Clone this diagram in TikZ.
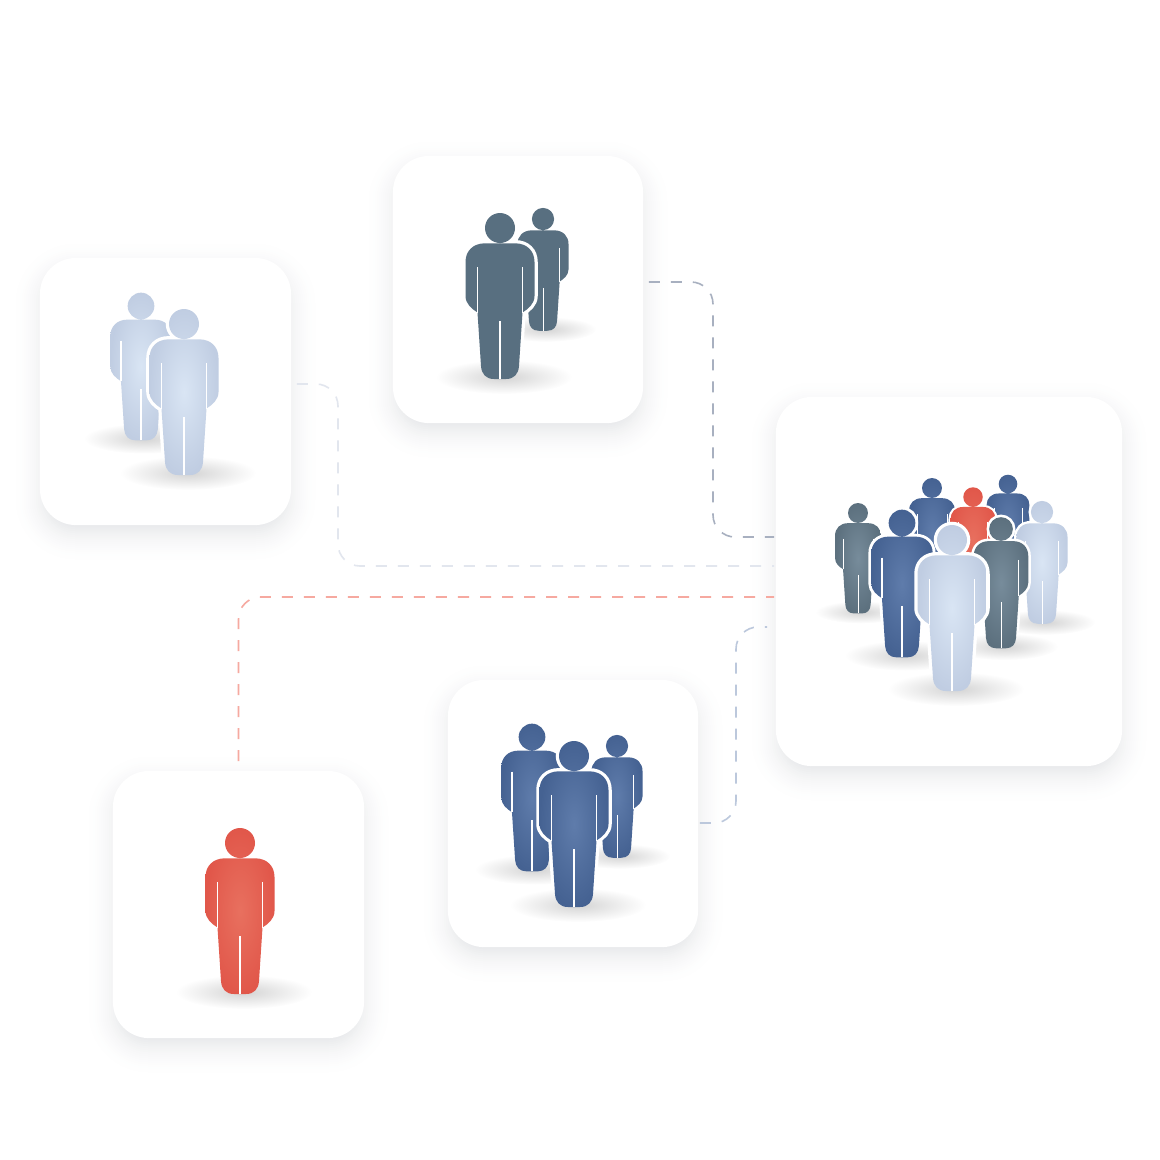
\documentclass[tikz,border=0pt]{standalone}
\usetikzlibrary{calc,fadings}
\definecolor{cardshade}{HTML}{000A20}
\definecolor{slateLink}{HTML}{A8B0C0}
\definecolor{lightLink}{HTML}{E2E6EE}
\definecolor{redLink}{HTML}{F6A9A0}
\definecolor{blueLink}{HTML}{BCC8DC}
\definecolor{slateA}{HTML}{586F80}
\definecolor{slateB}{HTML}{778C9B}
\definecolor{slateC}{HTML}{5C707E}
\definecolor{blueA}{HTML}{5F7CAB}
\definecolor{blueB}{HTML}{456292}
\definecolor{lightA}{HTML}{D9E5F4}
\definecolor{lightB}{HTML}{C0CDE2}
\definecolor{redA}{HTML}{E8705F}
\definecolor{redB}{HTML}{E1574A}
\tikzfading[name=groundfade, inner color=transparent!83, outer color=transparent!100]
\tikzset{
	card/.style={fill=white, rounded corners=0.36cm, inner sep=0pt, minimum width=2.5cm, minimum height=2.67cm},
	link/.style={line width=0.016cm, rounded corners=0.22cm, dash pattern=on 0.11cm off 0.11cm},
	personSlate/.style={inner color=slateA, outer color=slateA},
	personSteel/.style={inner color=slateB, outer color=slateC},
	personBlue/.style={inner color=blueA, outer color=blueB},
	personLight/.style={inner color=lightA, outer color=lightB},
	personRed/.style={inner color=redA, outer color=redB},
}
\def\personbody{(-15,15.3) -- (15,15.3) .. controls (27,15.3) and (34.5,23) .. (34.5,34) -- (34.5,68) .. controls (34.5,76) and (28,81) .. (22.5,84.5) -- (19,138) .. controls (18.5,146) and (14,151) .. (6,151) -- (-6,151) .. controls (-14,151) and (-18.5,146) .. (-19,138) -- (-22.5,84.5) .. controls (-28,81) and (-34.5,76) .. (-34.5,68) -- (-34.5,34) .. controls (-34.5,23) and (-27,15.3) .. (-15,15.3) -- cycle}
\def\person[#1](#2)(#3){
	\begin{scope}[shift={(#2)}, scale=#3]
		\begin{scope}
			\clip (-50,-30) rectangle (50,128);
			\draw[white, line width=#3*0.065cm] \personbody;
			\draw[white, line width=#3*0.065cm] (0,0) circle (15);
		\end{scope}
		\shade[#1] \personbody (0,0) circle (15);
		\draw[white, line width=#3*0.012cm] (-22.5,39) -- (-22.5,84.5);
		\draw[white, line width=#3*0.012cm] (22.5,39) -- (22.5,84.5);
		\draw[white, line width=#3*0.012cm] (0,93) -- (0,151);
	\end{scope}
}
\def\groundshade(#1)(#2){
	\fill[black, path fading=groundfade, shift={(#1)}, scale=#2] (4,149) ellipse (68 and 17);
}
\def\cardshadow(#1)(#2:#3){
	\foreach \g in {30,28,...,-10}{
		\pgfmathsetmacro\p{11.5*((30-\g)/45)^2}
		\fill[cardshade!\p!white, rounded corners=0.36cm+\g*0.01cm, shift={(#1)}] (-#2/2-\g, -#3/2-\g+10) rectangle (#2/2+\g, #3/2+\g+10);
	}
}

\begin{document}
\begin{tikzpicture}[x=0.01cm, y=-0.01cm]
	%%%%% START %%%%%
	\useasboundingbox (0,0) rectangle (1160,1160);
	\fill[white] (0,0) rectangle (1160,1160);
	
	\cardshadow(518,289.5)(250:267);
	\cardshadow(165.5,391.5)(251:267);
	\cardshadow(949,581.5)(346:369);
	\cardshadow(573,813.5)(250:267);
	\cardshadow(238.5,904.5)(251:267);
	
	\node[card] (cardSlate) at (518,289.5) {};
	\node[card, minimum width=2.51cm] (cardLight) at (165.5,391.5) {};
	\node[card, minimum width=3.46cm, minimum height=3.69cm] (cardCrowd) at (949,581.5) {};
	\node[card] (cardBlue) at (573,813.5) {};
	\node[card, minimum width=2.51cm] (cardRed) at (238.5,904.5) {};
	
	\coordinate (slateOut) at ($(cardSlate.east)+(5,-7.5)$);
	\coordinate (slateIn) at ($(cardCrowd.west)+(-1,-44.5)$);
	\coordinate (slateLane) at (713,400);
	\coordinate (lightOut) at ($(cardLight.east)+(5,-7.5)$);
	\coordinate (lightIn) at ($(cardCrowd.west)+(-1,-15.5)$);
	\coordinate (lightLane) at (338,480);
	\coordinate (redOut) at ($(cardRed.north)+(0,-9)$);
	\coordinate (redIn) at ($(cardCrowd.west)+(-1,15.5)$);
	\coordinate (blueOut) at ($(cardBlue.east)+(1,9.5)$);
	\coordinate (blueIn) at ($(cardCrowd.west)+(-8,45.5)$);
	\coordinate (blueLane) at (736,720);
	
	\draw[link, color=slateLink] (slateOut) -| (slateLane) |- (slateIn);
	\draw[link, color=lightLink] (lightOut) -| (lightLane) |- (lightIn);
	\draw[link, color=redLink] (redOut) |- (redIn);
	\draw[link, color=blueLink] (blueOut) -| (blueLane) |- (blueIn);
	
	% top card
	\groundshade(543,219)(0.74);
	\groundshade(500,228)(1);
	\person[personSlate](543,219)(0.74);
	\person[personSlate](500,228)(1);
	
	% left card
	\groundshade(141,306)(0.89);
	\groundshade(184,324)(1);
	\person[personLight](141,306)(0.89);
	\person[personLight](184,324)(1);
	
	% lower middle card
	\groundshade(532,737)(0.89);
	\groundshade(617,746)(0.74);
	\groundshade(574,756)(1);
	\person[personBlue](532,737)(0.89);
	\person[personBlue](617,746)(0.74);
	\person[personBlue](574,756)(1);
	
	% red card
	\groundshade(240,843)(1);
	\person[personRed](240,843)(1);
	
	% crowd card
	\groundshade(858,513)(0.665);
	\groundshade(1042,512)(0.74);
	\groundshade(1001,529)(0.79);
	\groundshade(902,523)(0.89);
	\groundshade(952,540)(1);
	\person[personBlue](932,488)(0.665);
	\person[personBlue](1008,484)(0.62);
	\person[personRed](973,497)(0.65);
	\person[personSteel](858,513)(0.665);
	\person[personLight](1042,512)(0.74);
	\person[personSteel](1001,529)(0.79);
	\person[personBlue](902,523)(0.89);
	\person[personLight](952,540)(1);
	
	%%%%% END %%%%%
\end{tikzpicture}
\end{document}
